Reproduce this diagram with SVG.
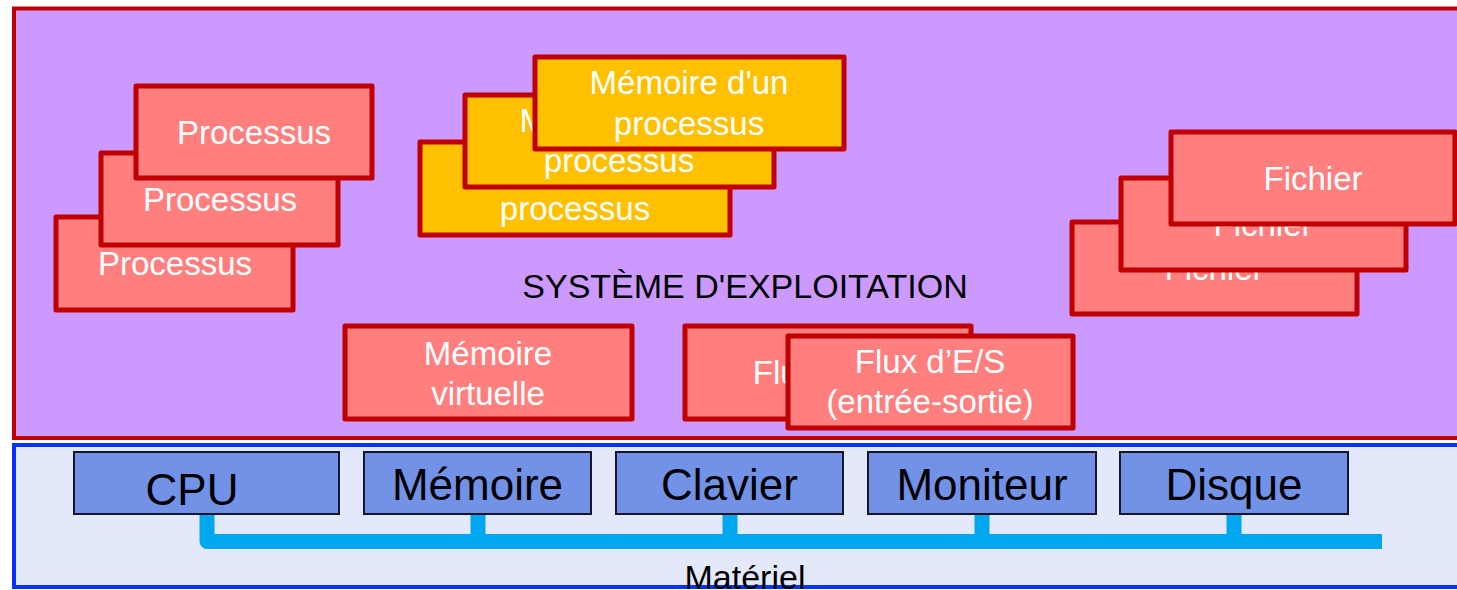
<svg xmlns="http://www.w3.org/2000/svg" width="1457" height="590" viewBox="0 0 1457 590">
  <style>
    .layer-os { fill: #CC99FF; stroke: #C00000; stroke-width: 4; }
    .layer-hw { fill: #E3E8FB; stroke: #0533FF; stroke-width: 4; }
    .obj { fill: #FF7F7F; stroke: #C00000; stroke-width: 5; stroke-linejoin: round; }
    .mem { fill: #FFC000; stroke: #C00000; stroke-width: 5; stroke-linejoin: round; }
    .dev { fill: #7292E8; stroke: #161628; stroke-width: 2; }
    .lbl { font-family: "Liberation Sans", Arial, sans-serif; font-size: 33px; fill: #FFFFFF; text-anchor: middle; }
    .dev-lbl { font-family: "Liberation Sans", Arial, sans-serif; font-size: 44px; fill: #000000; text-anchor: middle; }
    .title { font-family: "Liberation Sans", Arial, sans-serif; font-size: 34px; fill: #000000; text-anchor: middle; }
    .bus { fill: none; stroke: #00A6F0; stroke-width: 15; stroke-linejoin: round; stroke-linecap: butt; }
  </style>

  <!-- operating system layer -->
  <g id="os-layer">
    <rect class="layer-os" x="14" y="8.5" width="1460" height="429.5"/>
    <text class="title" x="745" y="298">SYSTÈME D'EXPLOITATION</text>
  </g>

  <!-- hardware layer -->
  <g id="hw-layer">
    <rect class="layer-hw" x="14" y="445" width="1460" height="142"/>
    <text class="title" x="745" y="589">Matériel</text>
  </g>

  <!-- system bus -->
  <g id="connectors">
    <path class="bus" d="M207 514 V541.5 H1382"/>
    <path class="bus" d="M478 514 V535 M730 514 V535 M982 514 V535 M1234 514 V535"/>
  </g>

  <!-- processes -->
  <g id="process-3">
    <rect class="obj" x="56" y="217" width="237" height="93"/>
    <text class="lbl" x="175" y="275">Processus</text>
  </g>
  <g id="process-2">
    <rect class="obj" x="101" y="153" width="237" height="92"/>
    <text class="lbl" x="220" y="211">Processus</text>
  </g>
  <g id="process-1">
    <rect class="obj" x="136" y="86" width="236" height="92"/>
    <text class="lbl" x="254" y="144">Processus</text>
  </g>

  <!-- process memory -->
  <g id="procmem-3">
    <rect class="mem" x="420" y="142" width="310" height="93"/>
    <text class="lbl" x="575" y="179">Mémoire d'un</text>
    <text class="lbl" x="575" y="220">processus</text>
  </g>
  <g id="procmem-2">
    <rect class="mem" x="465" y="95" width="309" height="92"/>
    <text class="lbl" x="619" y="132">Mémoire d'un</text>
    <text class="lbl" x="619" y="172">processus</text>
  </g>
  <g id="procmem-1">
    <rect class="mem" x="535" y="57" width="309" height="92"/>
    <text class="lbl" x="689" y="94">Mémoire d'un</text>
    <text class="lbl" x="689" y="135">processus</text>
  </g>

  <!-- files -->
  <g id="file-3">
    <rect class="obj" x="1072" y="222" width="285" height="92"/>
    <text class="lbl" x="1214" y="280">Fichier</text>
  </g>
  <g id="file-2">
    <rect class="obj" x="1121" y="178" width="285" height="92"/>
    <text class="lbl" x="1263" y="236">Fichier</text>
  </g>
  <g id="file-1">
    <rect class="obj" x="1171" y="132" width="284" height="92"/>
    <text class="lbl" x="1313" y="190">Fichier</text>
  </g>

  <!-- virtual memory -->
  <g id="virtual-memory">
    <rect class="obj" x="345" y="326" width="287" height="93"/>
    <text class="lbl" x="488" y="365">Mémoire</text>
    <text class="lbl" x="488" y="405">virtuelle</text>
  </g>

  <!-- I/O streams -->
  <g id="io-stream-2">
    <rect class="obj" x="685" y="326" width="286" height="93"/>
    <text class="lbl" x="828" y="384">Flux d’E/S</text>
  </g>
  <g id="io-stream-1">
    <rect class="obj" x="788" y="336" width="285" height="92"/>
    <text class="lbl" x="930" y="373">Flux d’E/S</text>
    <text class="lbl" x="930" y="413">(entrée-sortie)</text>
  </g>

  <!-- hardware devices -->
  <g id="dev-cpu">
    <rect class="dev" x="74" y="452" width="265" height="62"/>
    <text class="dev-lbl" x="192" y="505">CPU</text>
  </g>
  <g id="dev-memory">
    <rect class="dev" x="364" y="452" width="227" height="62"/>
    <text class="dev-lbl" x="477.5" y="500">Mémoire</text>
  </g>
  <g id="dev-keyboard">
    <rect class="dev" x="616" y="452" width="227" height="62"/>
    <text class="dev-lbl" x="729.5" y="500">Clavier</text>
  </g>
  <g id="dev-monitor">
    <rect class="dev" x="868" y="452" width="228" height="62"/>
    <text class="dev-lbl" x="982" y="500">Moniteur</text>
  </g>
  <g id="dev-disk">
    <rect class="dev" x="1120" y="452" width="228" height="62"/>
    <text class="dev-lbl" x="1234" y="500">Disque</text>
  </g>
</svg>
